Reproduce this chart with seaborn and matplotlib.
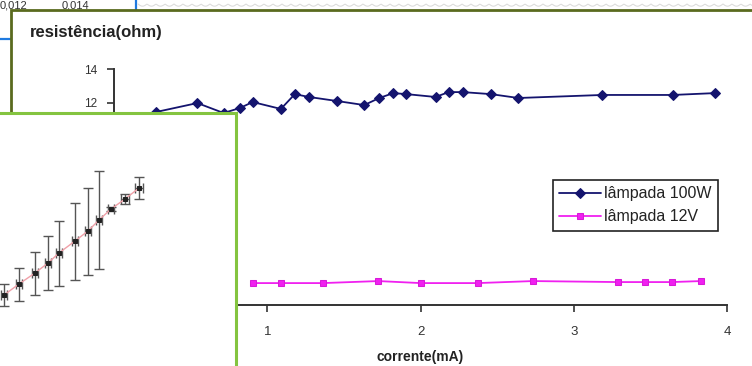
import numpy as np
import pandas as pd
import matplotlib
matplotlib.use("Agg")
import matplotlib.pyplot as plt
from matplotlib.patches import Rectangle
from matplotlib.lines import Line2D
import seaborn as sns

# ---- data -------------------------------------------------------------
lamp100_current = [0.275, 0.544, 0.715, 0.820, 0.905, 1.089, 1.180, 1.272, 1.456,
                   1.633, 1.731, 1.823, 1.908, 2.098, 2.184, 2.275, 2.459, 2.639,
                   3.187, 3.646, 3.921]
lamp100_resist = [11.45, 11.98, 11.39, 11.68, 12.04, 11.63, 12.51, 12.34, 12.10,
                  11.86, 12.28, 12.57, 12.51, 12.34, 12.63, 12.63, 12.51, 12.28,
                  12.46, 12.46, 12.57]

lamp12_current = [0.905, 1.089, 1.364, 1.725, 2.000, 2.374, 2.734, 3.292, 3.462,
                  3.639, 3.830]
lamp12_resist = [1.30, 1.30, 1.30, 1.42, 1.30, 1.30, 1.42, 1.36, 1.36, 1.36, 1.42]

series_labels = ["lâmpada 100W", "lâmpada 12V"]
x_ticks = [0, 1, 2, 3, 4]
y_ticks = [0, 2, 4, 6, 8, 10, 12, 14]

# small measurement chart with error bars (arbitrary units)
inset_x = [4, 19, 35, 48, 59, 75, 88, 99, 111, 125, 139]
inset_y = [71, 82, 93, 103, 113, 125, 135, 146, 157, 167, 178]
inset_yerr = [11, 16.5, 21.5, 27, 32.5, 38.5, 43.5, 49, 2, 5, 11]
inset_xerr = [3, 3, 3, 3, 3, 3, 3, 3, 3, 4, 4]

background_ticks = ["0,012", "0,014"]

# ---- layout helpers ---------------------------------------------------
W, H = 752, 366
def fx(x):
    return x / W
def fy(y):
    return 1 - y / H

sns.set_theme(style="white")
plt.rcParams["font.family"] = ["Liberation Sans", "DejaVu Sans"]

fig = plt.figure(figsize=(W / 100, H / 100), dpi=100)
fig.patch.set_facecolor("white")

# background sheet behind the main chart
fig.text(fx(0), fy(8.5), background_ticks[0], fontsize=8, color="#333333",
         ha="left", va="baseline", zorder=-3)
fig.text(fx(62), fy(8.5), background_ticks[1], fontsize=8, color="#333333",
         ha="left", va="baseline", zorder=-3)
fig.add_artist(Line2D([fx(135.5), fx(135.5)], [fy(0), fy(10)],
                      transform=fig.transFigure, color="#1f7ae0", lw=1.6, zorder=-3))
fig.add_artist(Line2D([fx(0), fx(11)], [fy(39), fy(39)],
                      transform=fig.transFigure, color="#1f7ae0", lw=1.6, zorder=-3))
wave_x = np.linspace(138, 752, 700)
wave_y = 4 + 2.2 * np.abs(np.sin(np.pi * (wave_x - 138) / 9.0))
fig.add_artist(Line2D(fx(wave_x), fy(wave_y), transform=fig.transFigure,
                      color="#dcdcdc", lw=0.8, zorder=-3))

# main chart sheet with olive frame
fig.add_artist(Rectangle((fx(11), fy(400)), fx(800), fy(10) - fy(400),
                         transform=fig.transFigure, facecolor="white",
                         edgecolor="#5a6a1e", lw=2.0, zorder=-2))

# ---- main chart ------------------------------------------------------
ax = fig.add_axes([fx(114), fy(305), fx(727) - fx(114), fy(69) - fy(305)])
ax.set_facecolor("none")

df100 = pd.DataFrame({"corrente": lamp100_current, "resistencia": lamp100_resist})
df12 = pd.DataFrame({"corrente": lamp12_current, "resistencia": lamp12_resist})

sns.lineplot(data=df100, x="corrente", y="resistencia", ax=ax, color="#14146e",
             marker="D", markersize=4.6, markeredgecolor="#14146e", lw=1.3,
             label=series_labels[0], sort=False)
sns.lineplot(data=df12, x="corrente", y="resistencia", ax=ax, color="#f020f0",
             marker="s", markersize=5, markeredgecolor="#d81ad8", lw=1.3,
             label=series_labels[1], sort=False)

ax.set_xlim(0, 4)
ax.set_ylim(0, 14)
ax.set_xticks(x_ticks)
ax.set_yticks(y_ticks)
ax.set_xticklabels([str(t) for t in x_ticks], fontsize=9.5, color="#333333")
ax.set_yticklabels([str(t) for t in y_ticks], fontsize=8.5, color="#333333")
ax.tick_params(axis="x", direction="out", length=5, width=1.2, color="#333333",
               bottom=True, pad=10)
ax.tick_params(axis="y", direction="out", length=5, width=1.2, color="#333333",
               left=True, pad=7)
for side in ["top", "right"]:
    ax.spines[side].set_visible(False)
for side in ["left", "bottom"]:
    ax.spines[side].set_color("#333333")
    ax.spines[side].set_linewidth(1.4)
ax.set_xlabel("corrente(mA)", fontsize=10, fontweight="bold", color="#222222",
              labelpad=9)
ax.set_ylabel("")

fig.text(fx(30), fy(33), "resistência(ohm)", fontsize=12, fontweight="bold",
         color="#222222", ha="left", va="center")

leg = ax.legend(loc="upper left", bbox_to_anchor=(fx(553), fy(180)),
                bbox_transform=fig.transFigure, borderaxespad=0, frameon=True,
                fancybox=False, edgecolor="#222222", framealpha=1, fontsize=11.5,
                handlelength=2.6, borderpad=0.4, labelspacing=0.5,
                handletextpad=0.2)
leg.get_frame().set_linewidth(1.2)
for t in leg.get_texts():
    t.set_color("#222222")

# ---- error-bar chart overlapping the lower left ------------------------
ins = fig.add_axes([0, 0, fx(236), fy(113)], zorder=3)
ins.set_facecolor("white")
ins.errorbar(inset_x, inset_y, yerr=inset_yerr, xerr=inset_xerr, fmt="none",
             ecolor="#555555", elinewidth=1.0, capsize=3.5, capthick=1.0)
sns.lineplot(x=inset_x, y=inset_y, ax=ins, color="#f0a0a8", lw=1.0,
             marker="s", markersize=3.5, markerfacecolor="#222222",
             markeredgecolor="#222222", sort=False)
ins.set_xlim(0, 236)
ins.set_ylim(0, 253)
ins.set_xticks([])
ins.set_yticks([])
for s in ins.spines.values():
    s.set_visible(False)

fig.add_artist(Rectangle((fx(-5), fy(400)), fx(241), fy(113) - fy(400),
                         transform=fig.transFigure, facecolor="none",
                         edgecolor="#84c440", lw=2.2, zorder=4))

fig.savefig("out.png", dpi=100)
